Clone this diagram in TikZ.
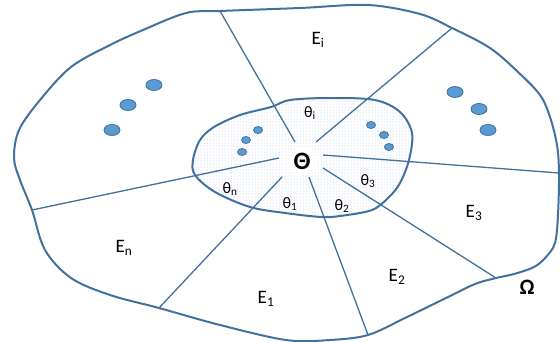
\documentclass[tikz,border=0pt]{standalone}
\usepackage{fontspec}
\setmainfont{Carlito}
\usetikzlibrary{patterns}
\definecolor{edge}{HTML}{41719C}
\definecolor{dotfill}{HTML}{5B9BD5}
\definecolor{patblue}{HTML}{A9C4E6}
\begin{document}
\begin{tikzpicture}[x=1pt,y=-1pt,
  outline/.style={draw=edge,line width=2pt,line join=round},
  spoke/.style={draw=edge,line width=1.3pt},
  bigdot/.style={draw=edge,fill=dotfill,line width=0.8pt},
  lab/.style={font=\fontsize{19}{19}\selectfont,inner sep=0pt},
  thlab/.style={font=\fontsize{16}{16}\selectfont,inner sep=0pt}]
\useasboundingbox (0,0) rectangle (560,341);
% spoke end points on outer boundary
\coordinate (sA) at (220,11);
\coordinate (sB) at (452,28);
\coordinate (sC) at (559,173);
\coordinate (sD) at (496,278);
\coordinate (sE) at (368,335);
\coordinate (sF) at (159,308);
\coordinate (sG) at (32,210);
% spoke inner ends
\coordinate (iA) at (295,142);
\coordinate (iB) at (316,142);
\coordinate (iC) at (323,155);
\coordinate (iD) at (323,168);
\coordinate (iE) at (309,177);
\coordinate (iF) at (282,177);
\coordinate (iG) at (279,158);
% outer region Omega
\draw[outline] plot[smooth cycle,tension=0.55] coordinates {
 (sA) (300,8) (368,5) (420,14) (sB) (490,48) (518,72) (540,95) (550,117)
 (557,145) (sC) (558,215) (555,243) (546,257) (534,267) (514,274) (sD) (475,284)
 (446,298) (405,318) (sE) (330,340) (286,340) (220,325) (sF) (110,295)
 (71,278) (45,250) (sG) (20,180) (14,158) (19,130) (40,100) (71,67)
 (110,45) (143,30) (186,13)};
% inner region fill
\path[fill=white,pattern=dots,pattern color=patblue] plot[smooth cycle,tension=0.55] coordinates {
 (193,160) (200,140) (214,127) (240,115) (271,107) (290,100) (330,98)
 (375,100) (400,112) (412,133) (409,160) (400,183) (389,197) (372,210)
 (340,216) (321,217) (285,213) (250,207) (215,192) (195,175)};
% spokes
\foreach \s in {A,B,C,D,E,F,G} \draw[spoke] (i\s) -- (s\s);
% inner outline
\draw[outline] plot[smooth cycle,tension=0.55] coordinates {
 (193,160) (200,140) (214,127) (240,115) (271,107) (290,100) (330,98)
 (375,100) (400,112) (412,133) (409,160) (400,183) (389,197) (372,210)
 (340,216) (321,217) (285,213) (250,207) (215,192) (195,175)};
% centre
\node[fill=white,circle,inner sep=2pt,font=\fontsize{25}{25}\selectfont\bfseries] (c) at (302,161) {Θ};
% dots
\foreach \p/\n in {{(154,85)}/o1,{(128,105)}/o2,{(112,130)}/o3,{(455,92)}/o4,{(479,109)}/o5,{(488,130)}/o6}
  \draw[bigdot] \p coordinate (\n) ellipse [x radius=8,y radius=5.5];
\foreach \p/\n in {{(258,130)}/p1,{(246,140)}/p2,{(242,152)}/p3,{(371,125)}/p4,{(384,135)}/p5,{(389,147)}/p6}
  \draw[bigdot] \p coordinate (\n) ellipse [x radius=4.5,y radius=3.5];
% labels
\node[lab] (Ei) at (318,40) {E\textsubscript{i}};
\node[lab] (E3) at (474,213) {E\textsubscript{3}};
\node[lab] (E2) at (397,277) {E\textsubscript{2}};
\node[lab] (E1) at (266,299) {E\textsubscript{1}};
\node[lab] (En) at (124,248) {E\textsubscript{n}};
\node[font=\fontsize{22}{22}\selectfont\bfseries,inner sep=0pt] (Om) at (527,287) {Ω};
\node[thlab] (ti) at (310,113) {θ\textsubscript{i}};
\node[thlab] (t3) at (368,181) {θ\textsubscript{3}};
\node[thlab] (t2) at (342,206) {θ\textsubscript{2}};
\node[thlab] (t1) at (290,204) {θ\textsubscript{1}};
\node[thlab] (tn) at (230,189) {θ\textsubscript{n}};
\end{tikzpicture}
\end{document}
